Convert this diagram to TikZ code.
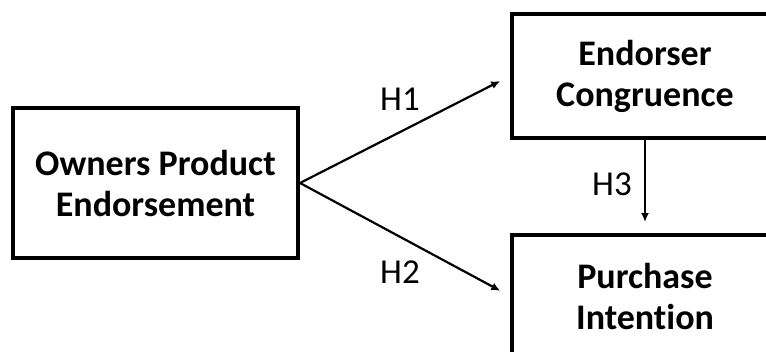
\documentclass[tikz,border=0pt]{standalone}
\usepackage{fontspec}
\setmainfont{Carlito}[Ligatures=NoCommon]
\usetikzlibrary{arrows.meta}
\begin{document}
\begin{tikzpicture}[x=1pt,y=-1pt,
  box/.style={draw, line width=4pt, font=\bfseries\fontsize{36}{41}\selectfont, align=center, inner sep=0pt},
  lbl/.style={font=\fontsize{35}{40}\selectfont, anchor=base, inner sep=0pt},
  conn/.style={line width=2.2pt, -{Latex[length=9pt,width=8pt]}}]
\useasboundingbox (0,0) rectangle (766,351);
\clip (0,0) rectangle (766,351);
\node[box, minimum width=285pt, minimum height=150pt] (ope) at (155.5,183) {Owners Product\\Endorsement};
\node[box, minimum width=266pt, minimum height=124pt] (ec) at (645,76) {Endorser\\Congruence};
\node[box, minimum width=266pt, minimum height=122pt] (pi) at (645,296) {Purchase\\Intention};
\draw[conn, shorten >=11pt] (ope.east) -- (ec.west);
\draw[conn, shorten >=11pt] (ope.east) -- (pi.west);
\draw[conn, shorten >=11pt] (ec.south) -- (pi.north);
\node[lbl] (h1) at (400,110) {H1};
\node[lbl] (h2) at (400,283) {H2};
\node[lbl] (h3) at (612,195) {H3};
\end{tikzpicture}
\end{document}
